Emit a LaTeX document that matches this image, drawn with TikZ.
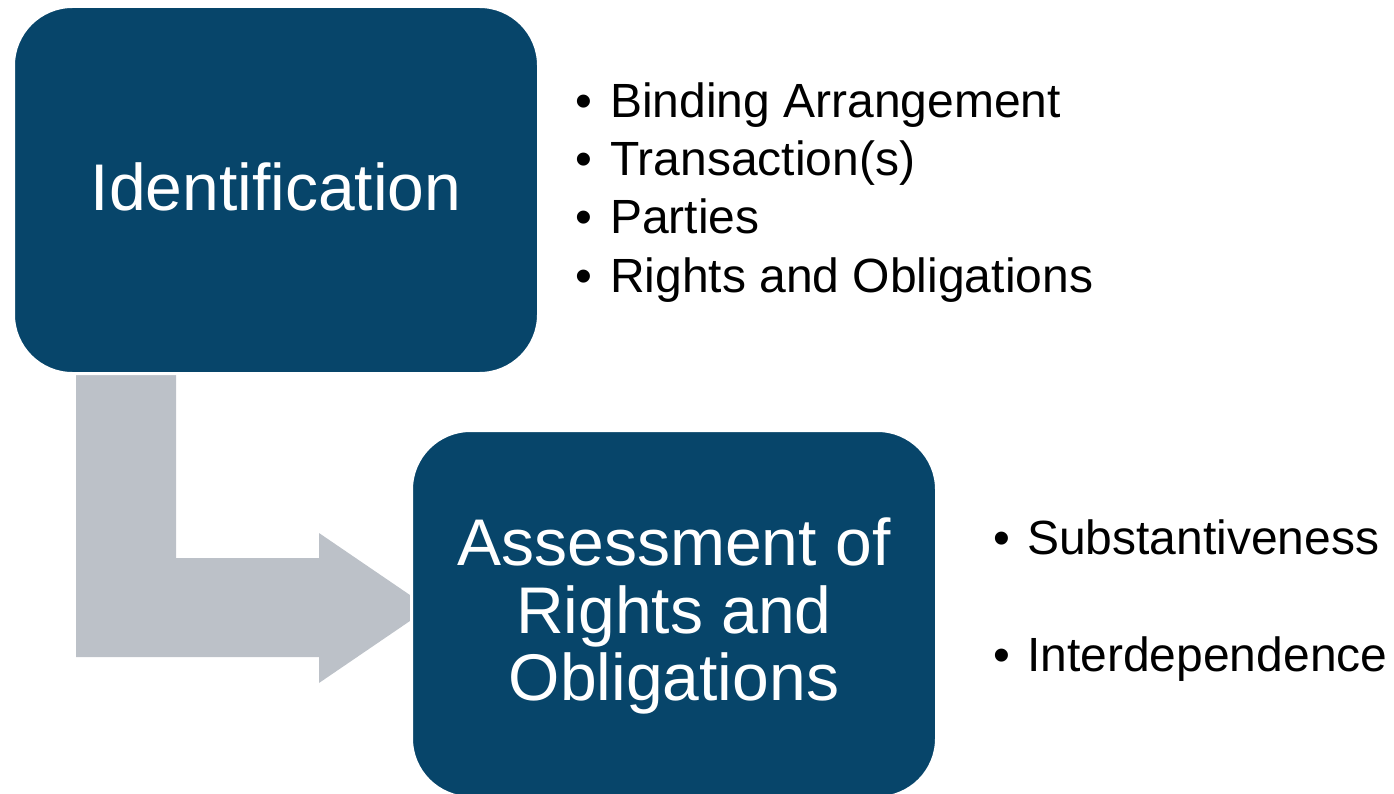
\documentclass[tikz,border=0pt]{standalone}
\usepackage{fontspec}
\setmainfont{Liberation Sans}
\definecolor{boxblue}{HTML}{07456A}
\definecolor{arrowgray}{HTML}{BCC1C8}
\tikzset{
  stagebox/.style={rectangle, rounded corners=59pt, fill=boxblue, draw=white, line width=3pt,
    minimum width=525pt, minimum height=367pt, inner sep=0pt},
  boxtext/.style={anchor=base, text=white, inner sep=0pt, font=\fontsize{66}{70}\selectfont},
  bullettext/.style={anchor=base west, text=black, inner sep=0pt, font=\fontsize{48}{56}\selectfont},
}
\begin{document}
\begin{tikzpicture}[x=1pt,y=-1pt]
\useasboundingbox (0,0) rectangle (1394,794);
% block arrow from first stage to second stage
\coordinate (tip) at (429,608);
\fill[arrowgray] (76,375) -- (176,375) -- (176,558) -- (319,558) -- (319,533) -- (tip)
  -- (319,683) -- (319,657) -- (76,657) -- cycle;
% stage boxes
\node[stagebox] (box1) at (276,190) {};
\node[stagebox] (box2) at (674,614) {};
% box texts
\node[boxtext] (t1) at ([yshift=-21pt]box1.center) {Identification};
\node[boxtext] (t2a) at ([yshift=49pt]box2.center) {Assessment of};
\node[boxtext] (t2b) at ([yshift=-19pt]box2.center) {Rights and};
\node[boxtext] (t2c) at ([yshift=-86pt]box2.center) {Obligations};
% bullets for stage one
\node[bullettext] (b1) at (575,118) {\makebox[35pt][l]{•}Binding Arrangement};
\node[bullettext] (b2) at (575,176) {\makebox[35pt][l]{•}Transaction(s)};
\node[bullettext] (b3) at (575,234) {\makebox[35pt][l]{•}Parties};
\node[bullettext] (b4) at (575,292) {\makebox[35pt][l]{•}Rights and Obligations};
% bullets for stage two
\node[bullettext] (c1) at (993,554) {\makebox[34pt][l]{•}Substantiveness};
\node[bullettext] (c2) at (993,671) {\makebox[34pt][l]{•}Interdependence};
\end{tikzpicture}
\end{document}
